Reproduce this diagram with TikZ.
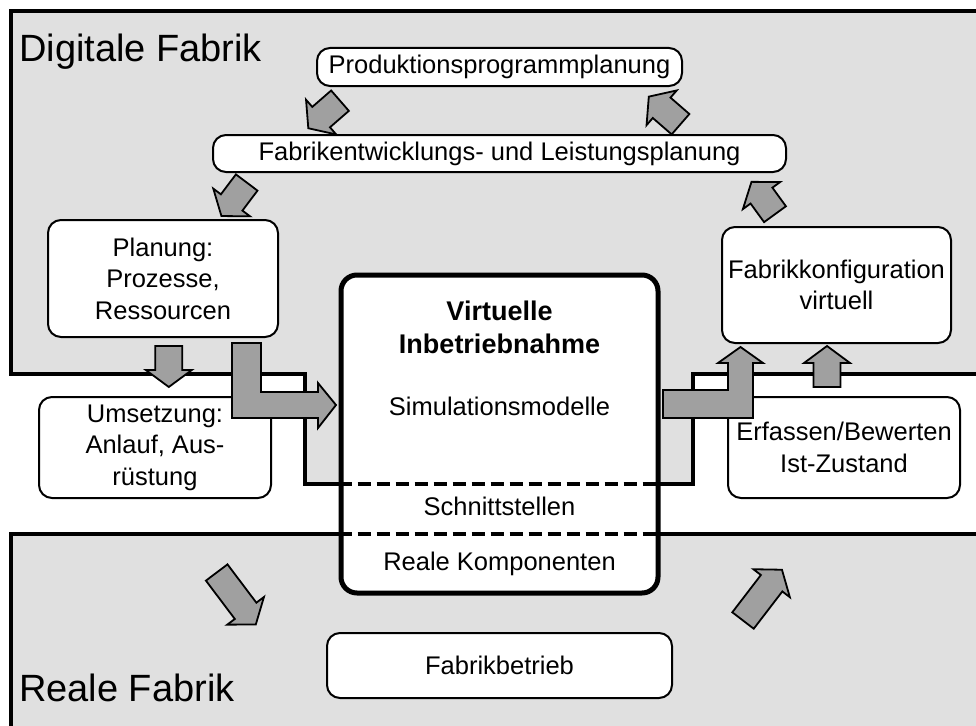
\documentclass[tikz,border=0pt]{standalone}
\usepackage{fontspec}
\setmainfont{Liberation Sans}
\definecolor{fabrikgray}{RGB}{224,224,224}
\definecolor{pfeilgray}{RGB}{160,160,160}

\begin{document}
\begin{tikzpicture}
  [x=1pt,y=-1pt,
   every node/.style={font=\fontsize{25.5}{31.5}\selectfont,align=center,inner sep=0pt},
   box/.style={draw,fill=white,rounded corners=13pt,line width=2pt},
   bigbox/.style={draw,fill=white,rounded corners=16pt,line width=5pt},
   region/.style={draw,fill=fabrikgray,line width=3.3pt},
   regionlabel/.style={anchor=base west,font=\fontsize{38}{44}\selectfont},
   titel/.style={anchor=base,font=\bfseries\fontsize{27}{33}\selectfont},
   cut/.style={line width=3.3pt,dash pattern=on 13pt off 6pt},
   fat/.style={draw,fill=pfeilgray,line width=1.8pt}]
  \useasboundingbox (0,0) rectangle (976,725);
  \clip (0,0) rectangle (976,725);

  % Bereiche
  \draw[region] (11,11) -- (990,11) -- (990,374) -- (693,374) -- (693,484) -- (305,484) -- (305,374) -- (11,374) -- cycle;
  \draw[region] (11,534) -- (990,534) -- (990,740) -- (11,740) -- cycle;
  \node[regionlabel] (digital) at (19,61) {Digitale Fabrik};
  \node[regionlabel] (real) at (19,701) {Reale Fabrik};

  % Kaesten
  \node[box,minimum width=365,minimum height=38] (prog) at (499.5,67) {Produktionsprogrammplanung};
  \node[box,minimum width=573,minimum height=37] (fel) at (499.5,153.5) {Fabrikentwicklungs- und Leistungsplanung};
  \node[box,minimum width=230,minimum height=117] (plan) at (163,278.5) {Planung:\\Prozesse,\\Ressourcen};
  \node[box,minimum width=232,minimum height=101] (ums) at (155,447.5) {Umsetzung:\\Anlauf, Aus-\\rüstung};
  \node[box,minimum width=229,minimum height=116] (konf) at (836.5,285) {Fabrikkonfiguration\\virtuell};
  \node[box,minimum width=232,minimum height=101] (ist) at (844,447.5) {Erfassen/Bewerten\\Ist-Zustand};
  \node[box,minimum width=345,minimum height=65] (betrieb) at (499.5,665.5) {Fabrikbetrieb};

  % Virtuelle Inbetriebnahme
  \node[bigbox,minimum width=317,minimum height=318] (vib) at (499.5,434) {};
  \coordinate (schnittA) at (0,484);
  \coordinate (schnittB) at (0,534);
  \draw[cut] (vib.west |- schnittA) -- (vib.east |- schnittA);
  \draw[cut] (vib.west |- schnittB) -- (vib.east |- schnittB);
  \node[titel] (titel1) at (499.5,320) {Virtuelle};
  \node[titel] (titel2) at (499.5,353) {Inbetriebnahme};
  \node[anchor=base] (sim) at (499.5,415) {Simulationsmodelle};
  \node[anchor=base] (schnitt) at (499.5,515) {Schnittstellen};
  \node[anchor=base] (komp) at (499.5,570) {Reale Komponenten};

  % Pfeile
  \foreach \tx/\ty/\ang/\len in {340/100.7/221/42, 246.7/182.5/233/42, 680.5/124.2/139/42,
      775/214.2/126/40, 168.8/346/270/41, 827/387/90/41, 216.7/572.5/307/65, 743/620.5/52.5/64}
    \draw[fat,shift={(\tx,\ty)},rotate=\ang] (0,-13.5) -- (\len-17,-13.5) -- (\len-17,-23)
      -- (\len,0) -- (\len-17,23) -- (\len-17,13.5) -- (0,13.5) -- cycle;
  \draw[fat] (232,343) -- (261,343) -- (261,392) -- (318,392) -- (318,383) -- (336,405)
    -- (318,428) -- (318,418) -- (232,418) -- cycle;
  \draw[fat] (663,390) -- (728,390) -- (728,363) -- (718,363) -- (740.5,347) -- (763,363)
    -- (753,363) -- (753,418) -- (663,418) -- cycle;
\end{tikzpicture}
\end{document}
